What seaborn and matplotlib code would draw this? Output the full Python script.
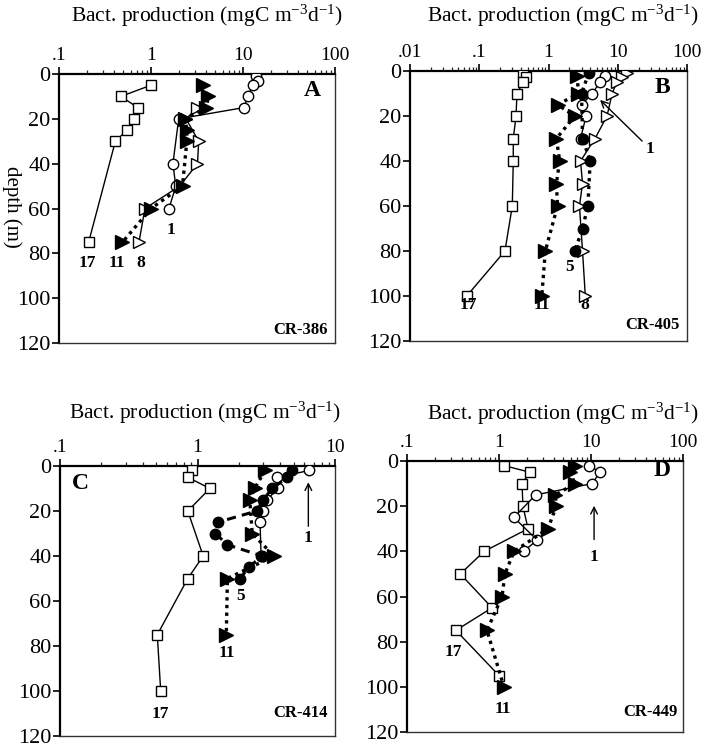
import numpy as np
import pandas as pd
import matplotlib
matplotlib.use("Agg")
import matplotlib.pyplot as plt
from matplotlib.ticker import LogLocator, NullFormatter, FixedLocator, FixedFormatter
import seaborn as sns

sns.set_theme(style="ticks")
plt.rcParams['font.family'] = ['Liberation Serif', 'DejaVu Serif']
plt.rcParams['mathtext.fontset'] = 'custom'
plt.rcParams['mathtext.rm'] = 'Liberation Serif'

# ---------------- data ----------------
# Panel A (CR-386)
A17_d = [5, 10, 15, 20, 25, 30, 75]
A17_v = [1.0, 0.47, 0.72, 0.65, 0.55, 0.41, 0.21]
A1_d = [1, 3, 5, 10, 15, 20, 40, 50, 60]
A1_v = [13.8, 14.4, 12.8, 11.3, 10.2, 2.0, 1.73, 1.86, 1.57]
A11_d = [5, 10, 15, 20, 25, 30, 50, 60, 75]
A11_v = [3.7, 4.2, 4.0, 2.35, 2.45, 2.45, 2.2, 1.0, 0.49]
A8_d = [15, 20, 30, 40, 50, 60, 75]
A8_v = [3.2, 2.4, 3.3, 3.2, 2.05, 0.86, 0.74]

# Panel B (CR-405)
B17_d = [1, 2.5, 5, 10, 20, 30, 40, 60, 80, 100]
B17_v = [0.43, 0.47, 0.43, 0.35, 0.34, 0.31, 0.31, 0.30, 0.235, 0.066]
B11_d = [2, 10, 15, 20, 30, 40, 50, 60, 80, 100]
B11_v = [2.6, 2.7, 1.35, 2.4, 1.3, 1.45, 1.3, 1.35, 0.9, 0.8]
B5_d = [1, 10, 30, 40, 60, 70, 80]
B5_v = [3.8, 3.0, 3.1, 4.0, 3.7, 3.1, 2.4]
B1_d = [2, 5, 10, 15, 20, 30]
B1_v = [6.5, 5.5, 4.3, 3.0, 3.5, 2.9]
B8_d = [1, 2.5, 5, 10, 20, 30, 40, 50, 60, 80, 100]
B8_v = [13.6, 11.5, 9.7, 8.3, 7.0, 4.7, 2.9, 3.1, 2.8, 3.1, 3.4]

# Panel C (CR-414)
C17_d = [2, 5, 10, 20, 40, 50, 75, 100]
C17_v = [0.91, 0.85, 1.23, 0.85, 1.1, 0.85, 0.51, 0.54]
C1_d = [2, 5, 10, 15, 20, 25, 40]
C1_v = [6.5, 3.8, 3.85, 3.2, 3.0, 2.85, 2.9]
C5_d = [2, 5, 10, 15, 20, 25, 30, 35, 40, 45, 50]
C5_v = [4.9, 4.5, 3.5, 3.0, 2.7, 1.4, 1.35, 1.65, 2.95, 2.35, 2.05]
C11_d = [2, 10, 15, 30, 40, 50, 75]
C11_v = [3.1, 2.6, 2.4, 2.5, 3.6, 1.65, 1.62]

# Panel D (CR-449)
D17_d = [2, 5, 10, 20, 30, 40, 50, 65, 75, 95]
D17_v = [1.13, 2.17, 1.78, 1.82, 2.07, 0.69, 0.38, 0.84, 0.34, 1.0]
D1_d = [2, 5, 10, 15, 25, 35, 40]
D1_v = [9.6, 12.5, 10.3, 2.5, 1.45, 2.6, 1.85]
D11_d = [2, 5, 10, 15, 20, 30, 40, 50, 60, 75, 100]
D11_v = [6.7, 5.9, 6.7, 4.1, 4.2, 3.4, 1.46, 1.16, 1.08, 0.74, 1.13]

xticks_A = [0.1, 1, 10, 100]; xlabels_A = ['.1', '1', '10', '100']
xticks_B = [0.01, 0.1, 1, 10, 100]; xlabels_B = ['.01', '.1', '1', '10', '100']
xticks_C = [0.1, 1, 10]; xlabels_C = ['.1', '1', '10']
xticks_D = [0.1, 1, 10, 100]; xlabels_D = ['.1', '1', '10', '100']
yticks = [0, 20, 40, 60, 80, 100, 120]

title = r'Bact. production (mgC m$\mathregular{^{-3}}$d$\mathregular{^{-1}}$)'

# ---------------- styles ----------------
STY = {
    'sq':   dict(marker='s', mfc='white', ls='-', lw=1.0, ms=7.5, z=3),
    'circ': dict(marker='o', mfc='white', ls='-', lw=1.0, ms=7.5, z=4),
    'ftri': dict(marker='>', mfc='black', ls=(0, (1, 1.3)), lw=2.4, ms=9.5, z=5),
    'otri': dict(marker='>', mfc='white', ls='-', lw=1.0, ms=8, z=4),
    'fcirc_dot': dict(marker='o', mfc='black', ls=(0, (1, 1.3)), lw=2.4, ms=7.5, z=5),
    'fcirc_dash': dict(marker='o', mfc='black', ls=(0, (3, 2)), lw=2.2, ms=7.5, z=5),
}


def draw(ax, v, d, key):
    s = STY[key]
    df = pd.DataFrame({'v': v, 'd': d})
    sns.lineplot(data=df, x='v', y='d', sort=False, estimator=None, ax=ax,
                 color='black', linestyle=s['ls'], linewidth=s['lw'],
                 marker=s['marker'], markersize=s['ms'], markerfacecolor=s['mfc'],
                 markeredgecolor='black', markeredgewidth=1.0, zorder=s['z'],
                 legend=False)


def style_axes(ax, xlim, xt, xl):
    ax.set_xscale('log')
    ax.set_xlim(*xlim)
    ax.set_ylim(120, 0)
    ax.xaxis.set_ticks_position('top')
    ax.xaxis.set_major_locator(FixedLocator(xt))
    ax.xaxis.set_major_formatter(FixedFormatter(xl))
    ax.xaxis.set_minor_locator(LogLocator(base=10, subs=np.arange(2, 10)))
    ax.xaxis.set_minor_formatter(NullFormatter())
    ax.set_yticks(yticks)
    ax.set_yticklabels([str(t) for t in yticks])
    ax.tick_params(axis='x', which='major', direction='out', length=5, width=1.2,
                   labelsize=14, pad=2, colors='black')
    ax.tick_params(axis='x', which='minor', direction='out', length=3, width=0.9)
    ax.tick_params(axis='y', which='major', direction='out', length=5, width=1.2,
                   labelsize=16, pad=1, colors='black')
    ax.tick_params(axis='y', which='minor', left=False)
    for sp in ['top', 'left']:
        ax.spines[sp].set_linewidth(1.6)
        ax.spines[sp].set_color('black')
    for sp in ['right', 'bottom']:
        ax.spines[sp].set_visible(True)
        ax.spines[sp].set_linewidth(1.0)
        ax.spines[sp].set_color('#333333')
    ax.set_xlabel('')
    ax.set_ylabel('')
    ax.set_facecolor('white')


fig = plt.figure(figsize=(7.05, 7.5), dpi=100)
fig.patch.set_facecolor('white')

axA = fig.add_axes([59/705, 1-343/750, 276/705, 269/750])
axB = fig.add_axes([410/705, 1-341/750, 277/705, 270/750])
axC = fig.add_axes([60/705, 1-736/750, 275/705, 270/750])
axD = fig.add_axes([407/705, 1-732/750, 276/705, 271/750])

lab = dict(fontsize=12.5, fontweight='bold', ha='center', va='center', color='black')

# Panel A
draw(axA, A17_v, A17_d, 'sq')
draw(axA, A1_v, A1_d, 'circ')
draw(axA, A8_v, A8_d, 'otri')
draw(axA, A11_v, A11_d, 'ftri')
style_axes(axA, (0.1, 100), xticks_A, xlabels_A)
axA.text(0.203, 84.5, '17', **lab)
axA.text(0.43, 84.5, '11', **lab)
axA.text(0.77, 84.5, '8', **lab)
axA.text(1.65, 69.5, '1', **lab)

# Panel B
draw(axB, B17_v, B17_d, 'sq')
draw(axB, B1_v, B1_d, 'circ')
draw(axB, B8_v, B8_d, 'otri')
draw(axB, B5_v, B5_d, 'fcirc_dot')
draw(axB, B11_v, B11_d, 'ftri')
style_axes(axB, (0.01, 100), xticks_B, xlabels_B)
axB.text(0.069, 104, '17', **lab)
axB.text(0.8, 104, '11', **lab)
axB.text(3.4, 104, '8', **lab)
axB.text(2.0, 87, '5', **lab)
axB.text(29, 34.5, '1', **lab)
axB.annotate('', xy=(5.2, 12), xytext=(24, 32),
             arrowprops=dict(arrowstyle='->', color='black', lw=1.0))

# Panel C
draw(axC, C17_v, C17_d, 'sq')
draw(axC, C1_v, C1_d, 'circ')
draw(axC, C5_v, C5_d, 'fcirc_dash')
draw(axC, C11_v, C11_d, 'ftri')
style_axes(axC, (0.1, 10), xticks_C, xlabels_C)
axC.text(0.54, 110, '17', **lab)
axC.text(1.64, 83, '11', **lab)
axC.text(2.04, 58, '5', **lab)
axC.text(6.4, 32, '1', **lab)
axC.annotate('', xy=(6.4, 6), xytext=(6.4, 28),
             arrowprops=dict(arrowstyle='->', color='black', lw=1.0))

# Panel D
draw(axD, D17_v, D17_d, 'sq')
draw(axD, D1_v, D1_d, 'circ')
draw(axD, D11_v, D11_d, 'ftri')
style_axes(axD, (0.1, 100), xticks_D, xlabels_D)
axD.text(0.32, 84.6, '17', **lab)
axD.text(1.1, 110, '11', **lab)
axD.text(10.8, 42.5, '1', **lab)
axD.annotate('', xy=(10.8, 18.6), xytext=(10.8, 36),
             arrowprops=dict(arrowstyle='->', color='black', lw=1.0))

# Panel letters and cruise labels
letter = dict(fontsize=17, fontweight='bold', ha='center', va='center', color='black')
axA.text(0.917, 0.94, 'A', transform=axA.transAxes, **letter)
axB.text(0.91, 0.94, 'B', transform=axB.transAxes, **letter)
axC.text(0.073, 0.937, 'C', transform=axC.transAxes, **letter)
axD.text(0.924, 0.965, 'D', transform=axD.transAxes, **letter)

cr = dict(fontsize=12, fontweight='bold', ha='right', va='center', color='black')
axA.text(0.975, 0.048, 'CR-386', transform=axA.transAxes, **cr)
axB.text(0.975, 0.06, 'CR-405', transform=axB.transAxes, **cr)
axC.text(0.975, 0.085, 'CR-414', transform=axC.transAxes, **cr)
axD.text(0.98, 0.074, 'CR-449', transform=axD.transAxes, **cr)

# Titles
tt = dict(fontsize=15.5, ha='center', va='center', color='black')
fig.text(207/705, 1-16/750, title, **tt)
fig.text(563/705, 1-16/750, title, **tt)
fig.text(205/705, 1-413/750, title, **tt)
fig.text(563/705, 1-414/750, title, **tt)

fig.text(12/705, 1-207/750, 'depth (m)', fontsize=15, rotation=-90,
         ha='center', va='center', color='black')

fig.savefig('out.png', dpi=100, facecolor='white')
